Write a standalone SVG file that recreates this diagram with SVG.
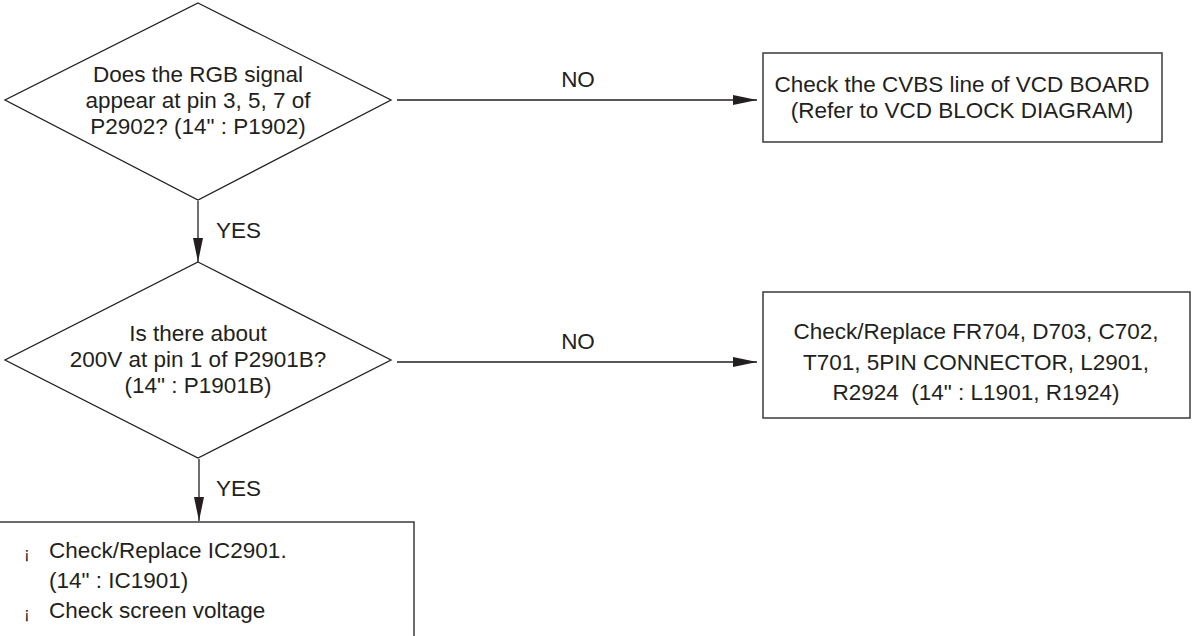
<svg xmlns="http://www.w3.org/2000/svg" width="1192" height="636" viewBox="0 0 1192 636">
<defs>
<style>
.shape{fill:#fff;stroke:#231f20;stroke-width:1.3}
.box{fill:#fff;stroke:#3a3a3a;stroke-width:1.5}
.t{font-family:"Liberation Sans",Arial,sans-serif;font-size:22.5px;fill:#231f20}
.c{text-anchor:middle}
.bul{font-size:17px}
.line{stroke:#231f20;stroke-width:1.3;fill:none}
</style>
<marker id="ah" viewBox="0 0 24 10" refX="24" refY="5" markerWidth="24" markerHeight="10" markerUnits="userSpaceOnUse" orient="auto">
<path d="M0,0 L24,5 L0,10 Z" fill="#231f20"/>
</marker>
</defs>
<rect width="1192" height="636" fill="#fff"/>
<g id="connectors">
<line class="line" x1="397" y1="100" x2="757" y2="100" marker-end="url(#ah)"/>
<text class="t c" x="578" y="87">NO</text>
<line class="line" x1="198" y1="201" x2="198" y2="262" marker-end="url(#ah)"/>
<text class="t" x="216" y="238">YES</text>
<line class="line" x1="397" y1="362" x2="757" y2="362" marker-end="url(#ah)"/>
<text class="t c" x="578" y="349">NO</text>
<line class="line" x1="199" y1="459" x2="199" y2="521" marker-end="url(#ah)"/>
<text class="t" x="216" y="496">YES</text>
</g>
<g id="d1">
<polygon class="shape" points="198,3 391,100 198,200 5,100"/>
<text class="t c" x="198" y="82">Does the RGB signal</text>
<text class="t c" x="198" y="108">appear at pin 3, 5, 7 of</text>
<text class="t c" x="198" y="134">P2902? (14" : P1902)</text>
</g>
<g id="b1">
<rect class="box" x="763" y="53" width="399" height="89"/>
<text class="t c" x="962" y="92">Check the CVBS line of VCD BOARD</text>
<text class="t c" x="962" y="118">(Refer to VCD BLOCK DIAGRAM)</text>
</g>
<g id="d2">
<polygon class="shape" points="198,262 391,360 198,458 5,360"/>
<text class="t c" x="198" y="341">Is there about</text>
<text class="t c" x="198" y="367">200V at pin 1 of P2901B?</text>
<text class="t c" x="198" y="393">(14" : P1901B)</text>
</g>
<g id="b2">
<rect class="box" x="763" y="292" width="427" height="126"/>
<text class="t c" x="976" y="339">Check/Replace FR704, D703, C702,</text>
<text class="t c" x="976" y="370">T701, 5PIN CONNECTOR, L2901,</text>
<text class="t c" x="976" y="400">R2924 &#160;(14" : L1901, R1924)</text>
</g>
<g id="b3">
<rect class="box" x="-2" y="522" width="416" height="130"/>
<text class="t bul" x="24" y="559">¡</text>
<text class="t" x="49" y="558">Check/Replace IC2901.</text>
<text class="t" x="49" y="588">(14" : IC1901)</text>
<text class="t bul" x="24" y="619">¡</text>
<text class="t" x="49" y="618">Check screen voltage</text>
</g>
</svg>
